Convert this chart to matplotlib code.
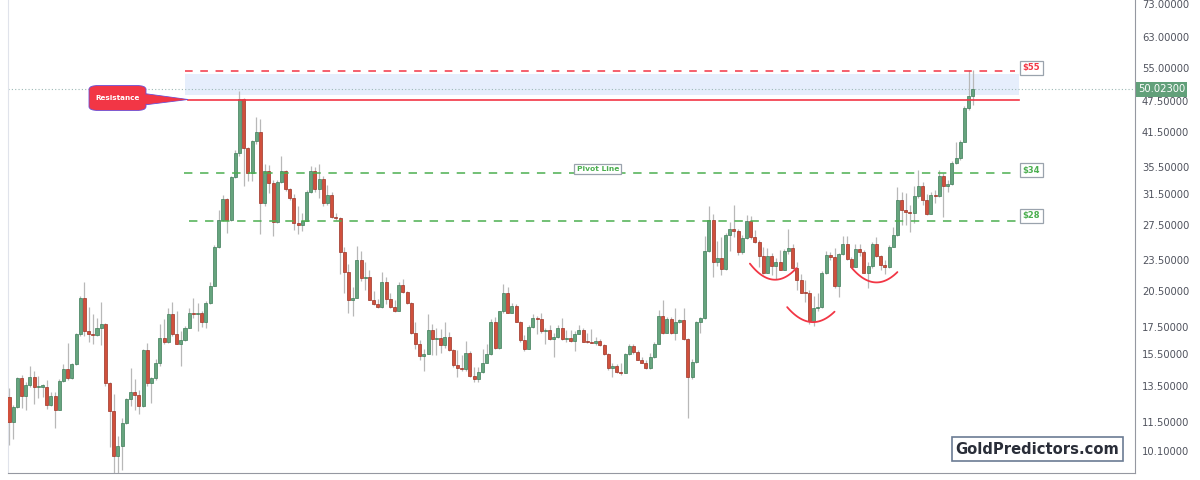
"""
Monthly silver candles with resistance / pivot annotations (GoldPredictors.com style)
"""
import numpy as np
import matplotlib
matplotlib.use('Agg')
import matplotlib.pyplot as plt
from matplotlib.patches import FancyBboxPatch, Polygon
from matplotlib.ticker import NullLocator

# ─── DATA (monthly OHLC) ───────────────────────────────────────────────────────
opens = [
    12.85, 11.5, 12.3, 13.95, 12.9, 13.55, 14.05, 13.4, 13.45, 13.45,
    12.4, 12.9, 12.15, 13.8, 14.55, 13.95, 14.85, 16.95, 19.85, 17.2,
    16.95, 16.9, 17.45, 17.75, 13.65, 12.05, 9.9, 10.35, 11.45, 12.7,
    13.1, 12.95, 12.35, 15.8, 13.65, 13.95, 14.9, 16.65, 16.35, 18.5,
    16.95, 16.25, 16.5, 17.45, 18.6, 18.55, 18.6, 17.9, 19.45, 21.0,
    24.9, 28.1, 30.8, 28.1, 34.0, 37.8, 47.9, 38.6, 34.6, 39.8,
    41.5, 30.2, 34.8, 33.0, 27.8, 33.25, 34.8, 32.2, 30.9, 27.7,
    27.5, 28.0, 31.8, 34.8, 32.2, 33.6, 30.25, 31.4, 28.4, 28.3,
    24.4, 22.3, 19.7, 19.9, 23.5, 21.7, 21.8, 19.75, 19.4, 19.1,
    21.3, 19.8, 19.1, 18.8, 21.1, 20.4, 19.45, 17.0, 16.2, 15.4,
    15.55, 17.25, 16.6, 16.65, 16.15, 16.75, 15.8, 14.8, 14.6, 14.5,
    15.6, 14.1, 13.9, 14.35, 14.95, 15.5, 17.9, 15.95, 18.75, 20.35,
    18.65, 19.2, 17.9, 16.5, 15.9, 17.5, 18.2, 18.15, 17.2, 17.3,
    16.6, 16.75, 17.45, 16.6, 16.7, 16.45, 16.95, 17.3, 16.4, 16.35,
    16.3, 16.45, 16.15, 15.55, 14.6, 14.7, 14.35, 14.3, 15.55, 16.1,
    15.65, 15.15, 14.95, 14.6, 15.3, 16.25, 18.35, 17.05, 18.15, 17.05,
    17.85, 18.05, 16.6, 14.05, 15.0, 17.85, 18.2, 24.45, 28.05, 23.3,
    23.7, 22.6, 26.3, 26.95, 26.7, 24.4, 25.9, 28.0, 26.05, 25.5,
    23.95, 22.25, 23.95, 22.9, 23.35, 22.55, 24.45, 24.8, 22.75, 21.55,
    20.35, 20.3, 18.0, 19.0, 19.15, 22.2, 24.1, 23.85, 20.95, 24.2,
    25.2, 23.6, 22.85, 24.7, 24.4, 22.25, 22.95, 25.25, 23.9, 23.05,
    22.8, 24.95, 26.3, 30.7, 29.35, 29.1, 28.9, 31.2, 32.6, 30.6,
    28.85, 31.4, 31.2, 34.1, 32.6, 32.9, 36.1, 36.85, 39.7, 46.1,
    48.5,
]
highs = [
    13.35, 12.4, 14.05, 14.15, 13.7, 14.7, 14.4, 14.1, 13.6, 13.85,
    13.15, 13.15, 13.9, 14.85, 16.3, 14.95, 17.05, 20.1, 21.35, 19.1,
    18.5, 18.2, 19.55, 17.8, 13.7, 13.0, 10.8, 11.7, 12.8, 14.6,
    13.9, 13.25, 15.85, 16.3, 14.0, 15.2, 17.75, 18.1, 19.05, 19.55,
    18.8, 17.2, 17.6, 19.0, 19.85, 19.45, 18.8, 19.6, 21.3, 25.1,
    29.35, 31.3, 30.9, 34.1, 38.2, 49.7, 48.1, 38.8, 39.9, 44.3,
    43.8, 35.9, 35.8, 33.5, 33.5, 37.3, 35.0, 32.4, 31.5, 29.9,
    29.0, 32.0, 35.6, 35.4, 36.0, 34.1, 32.7, 31.8, 28.9, 28.4,
    24.9, 23.1, 20.9, 25.0, 24.45, 23.3, 22.5, 20.5, 19.8, 22.3,
    21.8, 20.3, 19.7, 21.3, 21.65, 20.55, 19.5, 17.85, 16.5, 15.85,
    18.5, 17.75, 17.4, 17.35, 17.85, 17.1, 15.85, 15.8, 15.45, 16.45,
    15.7, 14.65, 14.65, 15.85, 16.2, 18.1, 18.3, 18.8, 21.2, 20.9,
    19.45, 19.4, 18.0, 16.9, 17.65, 18.5, 18.35, 18.6, 17.45, 17.65,
    17.0, 17.65, 18.2, 17.3, 17.3, 17.2, 17.65, 17.4, 17.0, 17.35,
    16.75, 16.6, 16.2, 15.6, 14.9, 14.85, 14.9, 15.6, 16.2, 16.2,
    15.8, 15.35, 15.15, 15.6, 16.35, 18.85, 19.7, 18.3, 18.25, 19.0,
    18.1, 19.0, 16.7, 15.2, 18.0, 18.3, 26.1, 29.8, 28.8, 25.6,
    26.0, 26.55, 27.8, 30.0, 27.0, 26.25, 28.7, 28.6, 26.8, 25.7,
    24.9, 24.8, 24.3, 23.7, 24.6, 24.7, 26.95, 25.3, 23.3, 22.1,
    21.5, 20.6, 20.1, 20.3, 22.4, 24.45, 24.35, 24.75, 24.3, 26.2,
    26.2, 23.85, 25.25, 25.25, 24.6, 23.35, 25.45, 26.0, 24.1, 23.5,
    25.1, 27.2, 32.5, 31.8, 31.6, 30.0, 32.6, 35.0, 33.2, 31.5,
    31.8, 32.0, 35.0, 34.6, 33.5, 36.4, 39.6, 39.9, 46.5, 54.4,
    54.4,
]
lows = [
    10.4, 10.65, 12.25, 12.25, 12.15, 13.4, 12.45, 12.8, 12.85, 12.2,
    12.35, 11.2, 12.1, 13.7, 13.85, 13.9, 14.8, 16.8, 16.8, 16.4,
    16.25, 16.8, 16.15, 13.5, 10.3, 8.8, 8.9, 9.3, 11.4, 12.35,
    12.1, 11.9, 12.3, 13.5, 12.5, 13.85, 14.75, 16.25, 16.3, 16.8,
    16.2, 14.75, 16.45, 17.4, 18.2, 17.2, 17.5, 17.4, 19.35, 20.95,
    24.85, 28.0, 26.5, 28.0, 33.8, 37.3, 32.6, 33.3, 33.3, 39.3,
    26.4, 29.9, 31.6, 26.2, 27.7, 33.1, 31.9, 30.7, 26.8, 26.4,
    26.7, 27.9, 31.6, 31.8, 30.9, 29.9, 29.95, 28.3, 28.1, 22.1,
    20.3, 18.6, 18.4, 19.85, 21.4, 20.6, 19.7, 19.3, 19.0, 19.0,
    19.4, 19.0, 18.7, 18.75, 20.3, 19.4, 16.95, 15.9, 15.1, 14.4,
    15.5, 15.45, 15.45, 15.6, 15.95, 15.7, 14.65, 14.05, 14.4, 14.4,
    14.05, 13.7, 13.75, 14.3, 14.9, 15.45, 15.9, 15.9, 18.65, 18.6,
    18.6, 17.85, 16.4, 15.7, 15.85, 17.45, 16.95, 17.05, 16.2, 16.55,
    15.3, 16.7, 16.55, 16.4, 16.35, 15.7, 16.95, 16.35, 16.3, 16.3,
    16.15, 16.1, 15.45, 14.45, 14.05, 14.25, 14.15, 14.25, 15.45, 15.55,
    15.1, 14.9, 14.55, 14.5, 15.25, 16.2, 16.95, 17.0, 16.95, 16.55,
    17.8, 16.55, 11.7, 13.9, 14.95, 17.05, 18.15, 24.35, 21.8, 22.9,
    22.0, 22.5, 24.5, 26.0, 24.0, 24.2, 25.8, 25.85, 25.4, 22.85,
    22.15, 22.2, 22.0, 21.6, 22.5, 22.5, 24.2, 22.6, 20.6, 20.3,
    19.55, 17.75, 17.6, 18.8, 19.0, 22.1, 23.55, 20.8, 20.0, 24.05,
    23.5, 22.7, 22.8, 23.95, 22.2, 20.8, 22.7, 23.85, 22.5, 22.1,
    22.7, 24.9, 26.2, 27.5, 27.5, 26.6, 27.7, 31.0, 30.0, 28.7,
    28.8, 30.3, 31.1, 28.4, 31.7, 32.8, 35.9, 36.6, 39.6, 45.6,
    46.7,
]
closes = [
    11.5, 12.3, 13.95, 12.9, 13.55, 14.05, 13.4, 13.45, 13.5, 12.4,
    12.9, 12.15, 13.8, 14.55, 13.95, 14.85, 16.95, 19.85, 17.2, 16.95,
    16.9, 17.45, 17.75, 13.65, 12.05, 9.9, 10.35, 11.45, 12.7, 13.1,
    12.95, 12.35, 15.8, 13.65, 13.95, 14.9, 16.65, 16.35, 18.5, 16.95,
    16.25, 16.5, 17.45, 18.6, 18.55, 18.6, 17.9, 19.45, 21.0, 24.9,
    28.1, 30.8, 28.1, 34.0, 37.8, 47.9, 38.6, 34.6, 39.8, 41.5,
    30.2, 34.8, 33.0, 27.8, 33.25, 34.8, 32.2, 30.9, 27.7, 27.5,
    28.0, 31.8, 34.8, 32.2, 33.6, 30.25, 31.4, 28.4, 28.3, 24.4,
    22.3, 19.7, 19.9, 23.5, 21.7, 21.8, 19.75, 19.4, 19.1, 21.3,
    19.8, 19.1, 18.8, 21.1, 20.4, 19.45, 17.0, 16.2, 15.4, 15.55,
    17.25, 16.6, 16.65, 16.15, 16.75, 15.8, 14.8, 14.6, 14.5, 15.6,
    14.1, 13.9, 14.35, 14.95, 15.5, 17.9, 15.95, 18.75, 20.35, 18.65,
    19.2, 17.9, 16.5, 15.9, 17.5, 18.2, 18.15, 17.2, 17.3, 16.6,
    16.75, 17.45, 16.6, 16.7, 16.45, 16.95, 17.3, 16.4, 16.35, 16.28,
    16.45, 16.15, 15.55, 14.6, 14.7, 14.35, 14.3, 15.55, 16.1, 15.65,
    15.15, 14.95, 14.6, 15.3, 16.25, 18.35, 17.05, 18.15, 17.05, 17.85,
    18.05, 16.6, 14.05, 15.0, 17.85, 18.2, 24.45, 28.05, 23.3, 23.7,
    22.6, 26.3, 26.95, 26.7, 24.4, 25.9, 28.0, 26.05, 25.5, 23.95,
    22.25, 23.95, 22.9, 23.35, 22.55, 24.45, 24.8, 22.75, 21.55, 20.35,
    20.3, 18.0, 19.0, 19.15, 22.2, 24.1, 23.85, 20.95, 24.2, 25.2,
    23.6, 22.85, 24.7, 24.4, 22.25, 22.95, 25.25, 23.9, 23.05, 22.8,
    24.95, 26.3, 30.7, 29.35, 29.1, 28.9, 31.2, 32.6, 30.6, 28.85,
    31.4, 31.2, 34.1, 32.6, 32.9, 36.1, 36.85, 39.7, 46.1, 48.5,
    50.02,
]

tick_prices = [10.1, 11.5, 13.5, 15.5, 17.5, 20.5, 23.5, 27.5, 31.5, 35.5,
               41.5, 47.5, 55.0, 63.0, 73.0]
last_price = 50.023

level_top = 54.3        # dashed red, labelled $55
resistance = 47.8       # solid red
zone_low, zone_high = 48.8, 53.5
pivot = 34.5            # dashed green, labelled $34 / Pivot Line
support = 27.9          # dashed green, labelled $28

# three rounding bottoms (bar index, price)
arcs = [
    [(176.8, 23.15), (182.8, 21.56), (187.9, 22.69)],
    [(185.7, 19.10), (191.5, 17.88), (197.0, 18.72)],
    [(201.1, 22.72), (207.4, 21.31), (212.0, 22.30)],
]

# ─── STYLE ─────────────────────────────────────────────────────────────────────
UP, UP_EDGE = "#66a47e", "#3f7d59"
DN, DN_EDGE = "#d0503c", "#9c3326"
WICK = "#b8b8b8"
RED = "#f23645"
GREEN = "#4caf50"
W, H = 1200, 480


def fx(px):
    return px / W


def fy(py):
    return 1 - py / H


fig = plt.figure(figsize=(12, 4.8), dpi=100)
ax = fig.add_axes([fx(8), fy(472.7), fx(1135) - fx(8), fy(0) - fy(472.7)])

idx = np.arange(len(closes))
o = np.array(opens)
c = np.array(closes)
hi = np.array(highs)
lo = np.array(lows)
up = c >= o
bot = np.minimum(o, c)
top = np.maximum(np.maximum(o, c), bot * 1.005)

ax.vlines(idx, lo, hi, color=WICK, lw=0.9, zorder=2)
ax.bar(idx[up], (top - bot)[up], bottom=bot[up], width=0.72, color=UP,
       edgecolor=UP_EDGE, linewidth=0.5, zorder=3)
ax.bar(idx[~up], (top - bot)[~up], bottom=bot[~up], width=0.72, color=DN,
       edgecolor=DN_EDGE, linewidth=0.5, zorder=3)

ax.set_yscale('log')
ax.set_xlim(-0.24, 268.7)
ax.set_ylim(9.19, 74.2)

# ─── LEVELS ────────────────────────────────────────────────────────────────────
ax.axhline(last_price, color="#9db9b6", lw=0.8, ls=(0, (1, 2)), zorder=1)
ax.fill_between([42.0, 240.9], zone_low, zone_high, color="#e6eefc", zorder=0.5, lw=0)
ax.plot([42.0, 240.1], [level_top] * 2, color=RED, lw=1.1, dashes=(5, 5), zorder=4)
ax.plot([42.7, 241.0], [resistance] * 2, color=RED, lw=1.2, zorder=4)
ax.plot([41.8, 240.1], [pivot] * 2, color=GREEN, lw=1.1, dashes=(5.5, 5), zorder=4)
ax.plot([43.0, 241.0], [support] * 2, color=GREEN, lw=1.1, dashes=(5.5, 5), zorder=4)

for txt, yv, col in [("$55", 55.0, RED), ("$34", 35.0, GREEN), ("$28", 28.6, GREEN)]:
    ax.text(244.0, yv, txt, color=col, fontsize=6.0, fontweight='bold',
            ha='center', va='center', zorder=6,
            bbox=dict(boxstyle='square,pad=0.3', fc='white', ec='#9aa3ad', lw=0.9))
ax.text(140.5, 35.2, "Pivot Line", color=GREEN, fontsize=5.4, fontweight='bold',
        ha='center', va='center', zorder=6,
        bbox=dict(boxstyle='square,pad=0.3', fc='white', ec='#9aa3ad', lw=0.9))

# rounding bottoms
for pts in arcs:
    xs = np.array([p[0] for p in pts])
    ys = np.log([p[1] for p in pts])
    coef = np.polyfit(xs, ys, 2)
    xx = np.linspace(xs[0], xs[-1], 60)
    ax.plot(xx, np.exp(np.polyval(coef, xx)), color=RED, lw=1.3, zorder=5,
            solid_capstyle='round')

# ─── AXES ──────────────────────────────────────────────────────────────────────
ax.yaxis.tick_right()
ax.yaxis.set_minor_locator(NullLocator())
ax.set_yticks(tick_prices)
ax.set_yticklabels([f"{t:.5f}" for t in tick_prices])
ax.tick_params(axis='y', length=0, pad=5, labelsize=7.2, labelcolor='#50535e')
ax.set_xticks([])
ax.spines['top'].set_visible(False)
ax.spines['left'].set_color('#e0e3eb')
ax.spines['bottom'].set_color('#9598a1')
ax.spines['right'].set_color('#9598a1')

# current price tag
fig.text(fx(1138), fy(89.5), f"{last_price:.5f}", color='white', fontsize=7.2,
         ha='left', va='center',
         bbox=dict(boxstyle='square,pad=0.22', fc='#62a07a', ec='none'))

# Resistance callout
fig.patches.append(Polygon([(fx(144), fy(93.5)), (fx(188), fy(99.5)), (fx(144), fy(105))],
                           closed=True, transform=fig.transFigure,
                           fc=RED, ec='#6a4fd8', lw=0.6, zorder=5))
fig.patches.append(FancyBboxPatch((fx(89), fy(110.5)), fx(146) - fx(89), fy(85.5) - fy(110.5),
                                  boxstyle='round,pad=0,rounding_size=0.008',
                                  transform=fig.transFigure, fc=RED, ec='#6a4fd8',
                                  lw=0.6, zorder=5))
fig.patches.append(Polygon([(fx(143), fy(94.3)), (fx(187), fy(99.5)), (fx(143), fy(104.2))],
                           closed=True, transform=fig.transFigure,
                           fc=RED, ec='none', zorder=5.5))
fig.text(fx(117.5), fy(98), "Resistance", color='white', fontsize=5.2,
         fontweight='bold', ha='center', va='center', zorder=6)

# watermark
fig.text(fx(1037.5), fy(449), "GoldPredictors.com", color='#2a2e39', fontsize=10.6,
         fontweight='bold', ha='center', va='center',
         bbox=dict(boxstyle='square,pad=0.28', fc='white', ec='#6b7b93', lw=1.2))

plt.savefig("out.png", dpi=100)
